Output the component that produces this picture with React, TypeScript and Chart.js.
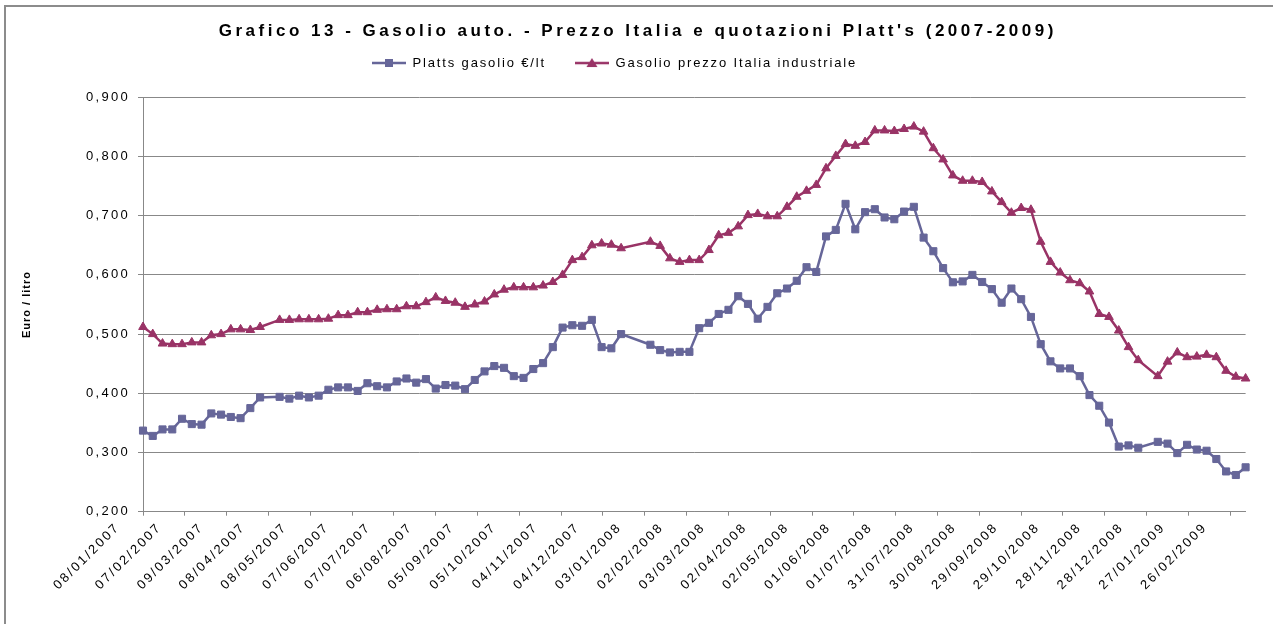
import React, { useEffect, useRef } from 'react';
import { Chart, registerables } from 'chart.js';

Chart.register(...registerables);

// Weekly observation dates (Mondays; holiday weeks missing)
const dates = [
  '2007-01-08', '2007-01-15', '2007-01-22', '2007-01-29',
  '2007-02-05', '2007-02-12', '2007-02-19', '2007-02-26',
  '2007-03-05', '2007-03-12', '2007-03-19', '2007-03-26',
  '2007-04-02', '2007-04-16', '2007-04-23', '2007-04-30',
  '2007-05-07', '2007-05-14', '2007-05-21', '2007-05-28',
  '2007-06-04', '2007-06-11', '2007-06-18', '2007-06-25',
  '2007-07-02', '2007-07-09', '2007-07-16', '2007-07-23', '2007-07-30',
  '2007-08-06', '2007-08-13', '2007-08-20', '2007-08-27',
  '2007-09-03', '2007-09-10', '2007-09-17', '2007-09-24',
  '2007-10-01', '2007-10-08', '2007-10-15', '2007-10-22', '2007-10-29',
  '2007-11-05', '2007-11-12', '2007-11-19', '2007-11-26',
  '2007-12-03', '2007-12-10', '2007-12-17',
  '2008-01-07', '2008-01-14', '2008-01-21', '2008-01-28',
  '2008-02-04', '2008-02-11', '2008-02-18', '2008-02-25',
  '2008-03-03', '2008-03-10', '2008-03-17', '2008-03-24', '2008-03-31',
  '2008-04-07', '2008-04-14', '2008-04-21', '2008-04-28',
  '2008-05-05', '2008-05-12', '2008-05-19', '2008-05-26',
  '2008-06-02', '2008-06-09', '2008-06-16', '2008-06-23', '2008-06-30',
  '2008-07-07', '2008-07-14', '2008-07-21', '2008-07-28',
  '2008-08-04', '2008-08-11', '2008-08-18', '2008-08-25',
  '2008-09-01', '2008-09-08', '2008-09-15', '2008-09-22', '2008-09-29',
  '2008-10-06', '2008-10-13', '2008-10-20', '2008-10-27',
  '2008-11-03', '2008-11-10', '2008-11-17', '2008-11-24',
  '2008-12-01', '2008-12-08', '2008-12-15', '2008-12-22',
  '2009-01-05', '2009-01-12', '2009-01-19', '2009-01-26',
  '2009-02-02', '2009-02-09', '2009-02-16', '2009-02-23',
  '2009-03-02', '2009-03-09',
];

const platts = [
  0.337, 0.328, 0.339, 0.339, 0.357, 0.348, 0.347, 0.366, 0.364, 0.360, 0.358, 0.375, 0.393,
  0.394, 0.391, 0.396, 0.393, 0.396, 0.406, 0.410, 0.410, 0.404, 0.417, 0.412, 0.410,
  0.420, 0.425, 0.418, 0.424, 0.408, 0.414, 0.413, 0.407, 0.4225, 0.437, 0.446, 0.443,
  0.429, 0.426, 0.441, 0.451, 0.478, 0.511, 0.515, 0.514, 0.524, 0.478, 0.476, 0.500,
  0.482, 0.473, 0.469, 0.470, 0.470, 0.510, 0.519, 0.534, 0.541, 0.564, 0.551, 0.526,
  0.546, 0.569, 0.577, 0.590, 0.613, 0.605, 0.665, 0.676, 0.720, 0.677, 0.706, 0.711,
  0.697, 0.694, 0.707, 0.715, 0.663, 0.640, 0.6115, 0.5875, 0.589, 0.600, 0.588, 0.576,
  0.553, 0.577, 0.559, 0.529, 0.483, 0.454, 0.442, 0.442, 0.429, 0.397, 0.379, 0.3505,
  0.310, 0.312, 0.308,
  0.318, 0.315, 0.299, 0.313, 0.305, 0.303, 0.289, 0.268, 0.262, 0.275,
];

const italia = [
  0.512, 0.500, 0.484, 0.483, 0.483, 0.486, 0.486, 0.498, 0.500, 0.508, 0.508, 0.507, 0.512,
  0.524, 0.524, 0.525, 0.525, 0.525, 0.526, 0.532, 0.532, 0.537, 0.537, 0.541, 0.542,
  0.542, 0.547, 0.547, 0.554, 0.562, 0.556, 0.553, 0.546, 0.550, 0.555, 0.567, 0.575,
  0.579, 0.579, 0.579, 0.582, 0.588, 0.600, 0.625, 0.630, 0.650, 0.653, 0.651, 0.645,
  0.656, 0.649, 0.628, 0.622, 0.625, 0.625, 0.642, 0.667, 0.671, 0.682, 0.701, 0.703,
  0.699, 0.699, 0.715, 0.732, 0.742, 0.752, 0.780, 0.801, 0.821, 0.818, 0.8245, 0.844,
  0.844, 0.843, 0.8465, 0.8505, 0.842, 0.814, 0.795, 0.768, 0.759, 0.759, 0.757, 0.741,
  0.723, 0.705, 0.713, 0.710, 0.656, 0.622, 0.604, 0.591, 0.586, 0.572, 0.534, 0.529,
  0.506, 0.478, 0.456,
  0.429, 0.4535, 0.469, 0.461, 0.462, 0.465, 0.461, 0.438, 0.428, 0.425,
];

const tickLabels = [
  '08/01/2007', '07/02/2007', '09/03/2007', '08/04/2007', '08/05/2007', '07/06/2007',
  '07/07/2007', '06/08/2007', '05/09/2007', '05/10/2007', '04/11/2007', '04/12/2007',
  '03/01/2008', '02/02/2008', '03/03/2008', '02/04/2008', '02/05/2008', '01/06/2008',
  '01/07/2008', '31/07/2008', '30/08/2008', '29/09/2008', '29/10/2008', '28/11/2008',
  '28/12/2008', '27/01/2009', '26/02/2009',
];

const seriesNames = ['Platts gasolio €/lt', 'Gasolio prezzo Italia industriale'];
const titleText = "Grafico 13 - Gasolio auto. - Prezzo Italia e quotazioni Platt's (2007-2009)";
const yTitle = 'Euro / litro';

const BLUE = '#666699';
const MAROON = '#993366';
const GRID = '#888888';
const FONT = "'Liberation Sans', Arial, sans-serif";

const START = Date.UTC(2007, 0, 8);
const dayOfIso = (s: string) => {
  const [y, m, d] = s.split('-').map(Number);
  return Math.round((Date.UTC(y, m - 1, d) - START) / 86400000);
};
const dayOfLabel = (s: string) => {
  const [d, m, y] = s.split('/').map(Number);
  return Math.round((Date.UTC(y, m - 1, d) - START) / 86400000);
};

function wrapSpacing(obj: any, name: string, spacing: string, dx = 0, dy = 0) {
  if (!obj || typeof obj[name] !== 'function') return;
  const key = '__ls_' + name;
  if (obj[key]) return;
  const orig = obj[name];
  obj[name] = function (...args: any[]) {
    const ctx = this.ctx;
    ctx.save();
    ctx.letterSpacing = spacing;
    if (dx || dy) ctx.translate(dx, dy);
    try {
      return orig.apply(this, args);
    } finally {
      ctx.restore();
    }
  };
  obj[key] = true;
}

function makeIcon(color: string, style: string) {
  const c = document.createElement('canvas');
  c.width = 34;
  c.height = 12;
  const g = c.getContext('2d')!;
  g.strokeStyle = color;
  g.lineWidth = 2.5;
  g.beginPath();
  g.moveTo(0, 6);
  g.lineTo(34, 6);
  g.stroke();
  g.fillStyle = color;
  if (style === 'rect') {
    g.fillRect(13, 2, 8, 8);
  } else {
    g.beginPath();
    g.moveTo(17, 1);
    g.lineTo(22.5, 10);
    g.lineTo(11.5, 10);
    g.closePath();
    g.fill();
  }
  return c;
}

const decor = {
  id: 'decor',
  beforeLayout(chart: any) {
    wrapSpacing(chart.titleBlock, 'draw', '3.5px', 15, 0);
    wrapSpacing(chart.legend, 'fit', '1.85px');
    wrapSpacing(chart.legend, 'draw', '1.85px', 343, -17.8);
  },
  beforeDraw(chart: any) {
    const s = chart.scales;
    wrapSpacing(s.x, 'drawLabels', '2.3px');
    wrapSpacing(s.y, 'drawLabels', '2.3px');
    wrapSpacing(s.y, 'drawTitle', '1px');
    const ctx = chart.ctx;
    ctx.save();
    ctx.fillStyle = '#8c8c8c';
    ctx.fillRect(4, 5, chart.width - 4, 2);
    ctx.fillRect(4, 5, 2, chart.height - 5);
    ctx.restore();
  },
};

export default function App() {
  const ref = useRef<HTMLCanvasElement | null>(null);

  useEffect(() => {
    if (!ref.current) return;
    const icons = [makeIcon(BLUE, 'rect'), makeIcon(MAROON, 'triangle')];
    const xs = dates.map(dayOfIso);
    const tickDays = tickLabels.map(dayOfLabel);
    const xMax = xs[xs.length - 1];

    const chart = new Chart(ref.current, {
      type: 'line',
      data: {
        datasets: [
          {
            label: seriesNames[0],
            data: xs.map((x, i) => ({ x, y: platts[i] })),
            borderColor: BLUE,
            backgroundColor: BLUE,
            borderWidth: 2.5,
            pointStyle: 'rect',
            pointRadius: 5,
            pointHoverRadius: 5,
            pointBorderWidth: 1,
            pointBorderColor: BLUE,
            pointBackgroundColor: BLUE,
            tension: 0,
            clip: false,
          },
          {
            label: seriesNames[1],
            data: xs.map((x, i) => ({ x, y: italia[i] })),
            borderColor: MAROON,
            backgroundColor: MAROON,
            borderWidth: 2.5,
            pointStyle: 'triangle',
            pointRadius: 5,
            pointHoverRadius: 5,
            pointBorderWidth: 1,
            pointBorderColor: MAROON,
            pointBackgroundColor: MAROON,
            tension: 0,
            clip: false,
          },
        ],
      },
      options: {
        animation: false,
        responsive: false,
        events: [],
        layout: { padding: { left: 0, right: 27.4, top: 0, bottom: 0 }, autoPadding: false },
        plugins: {
          tooltip: { enabled: false },
          title: {
            display: true,
            text: titleText,
            color: '#000',
            font: { family: FONT, size: 17, weight: 'bold' },
            padding: { top: 20.8, bottom: 4.1 },
          },
          legend: {
            display: true,
            position: 'top',
            align: 'start',
            labels: {
              usePointStyle: true,
              pointStyleWidth: 34,
              boxHeight: 13,
              padding: 29,
              color: '#000',
              font: { family: FONT, size: 13 },
              generateLabels: (ch: any) => {
                const items = Chart.defaults.plugins.legend.labels.generateLabels(ch);
                items.forEach((it: any, i: number) => {
                  it.pointStyle = icons[i];
                  it.lineWidth = 0;
                });
                return items;
              },
            },
          },
        },
        scales: {
          x: {
            type: 'linear',
            min: 0,
            max: xMax,
            offset: false,
            afterBuildTicks: (scale: any) => {
              scale.ticks = tickDays.map((v) => ({ value: v }));
            },
            afterFit: (scale: any) => {
              scale.height = 624 - 511.7;
              scale.paddingLeft = 0;
              scale.paddingRight = 0;
            },
            ticks: {
              autoSkip: false,
              maxRotation: 45,
              minRotation: 45,
              padding: 4,
              labelOffset: -25,
              color: '#000',
              font: { family: FONT, size: 13 },
              callback: (_v: any, i: number) => tickLabels[i],
            },
            grid: { display: true, drawOnChartArea: false, drawTicks: true, tickLength: 4, color: GRID },
            border: { display: true, color: GRID, width: 1 },
          },
          y: {
            type: 'linear',
            min: 0.2,
            max: 0.9,
            afterFit: (scale: any) => {
              scale.width = 143;
            },
            ticks: {
              stepSize: 0.1,
              padding: 8,
              color: '#000',
              font: { family: FONT, size: 13 },
              callback: (v: any) => Number(v).toFixed(3).replace('.', ','),
            },
            grid: { color: GRID, tickLength: 5 },
            border: { display: true, color: GRID, width: 1 },
            title: {
              display: true,
              text: yTitle,
              color: '#000',
              font: { family: FONT, size: 11, weight: 'bold' },
              padding: { top: 20, bottom: 0 },
            },
          },
        },
      },
      plugins: [decor],
    } as any);

    return () => chart.destroy();
  }, []);

  return (
    <div style={{ position: 'fixed', left: 0, top: 0, width: 1273, height: 624, background: '#fff' }}>
      <canvas ref={ref} width={1273} height={624} style={{ display: 'block' }} />
    </div>
  );
}
